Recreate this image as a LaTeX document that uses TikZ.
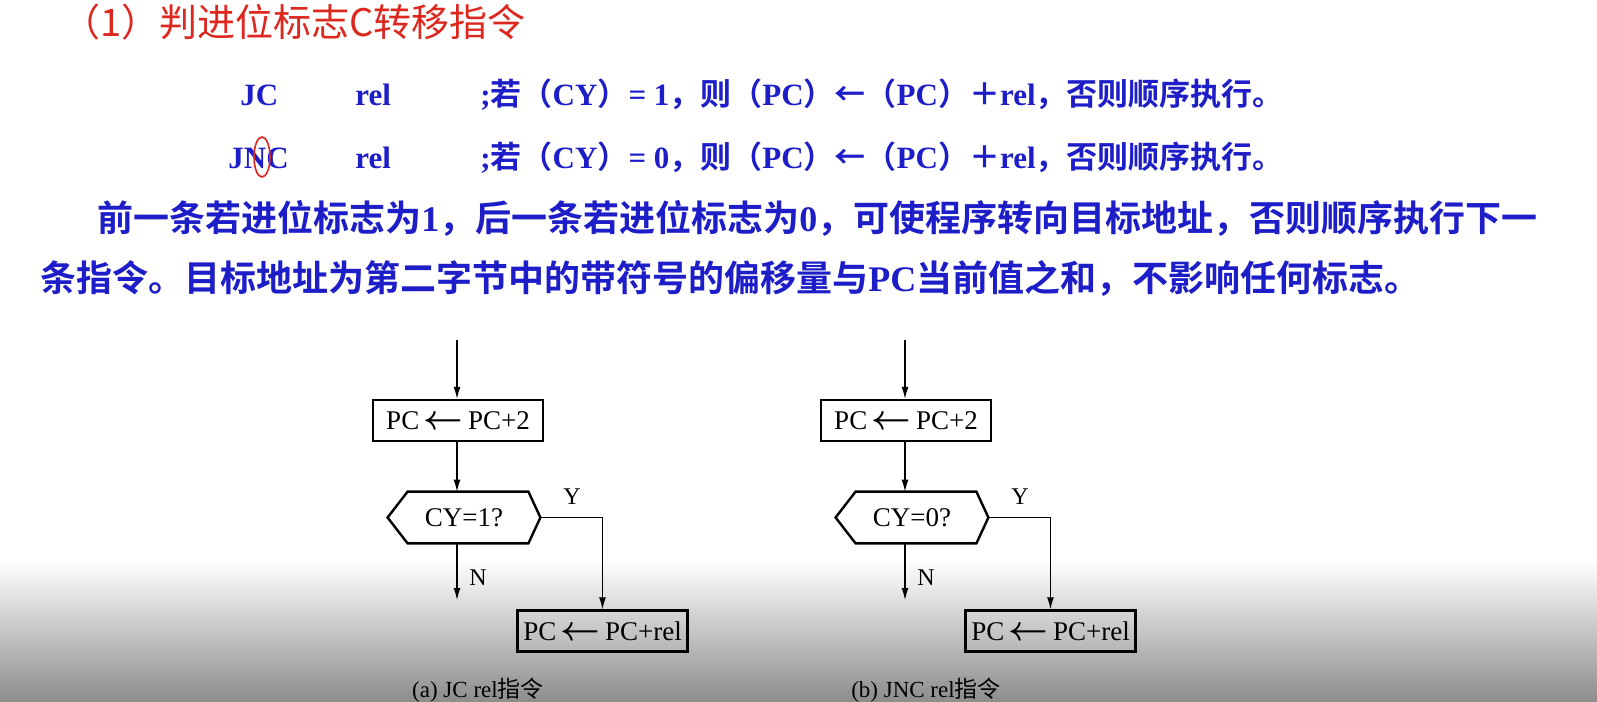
\documentclass[tikz,border=0pt]{standalone}
\usepackage{fontspec}
\setmainfont{Liberation Serif}
\newfontfamily\cjk{Noto Sans CJK SC}
\newfontfamily\cjkb{Noto Sans CJK SC}[BoldFont={Noto Sans CJK SC Bold}]
\usetikzlibrary{calc,arrows.meta}
\definecolor{tblue}{RGB}{30,30,200}
\definecolor{tred}{RGB}{220,40,30}
\tikzset{
  box/.style={draw,line width=1.2pt,minimum width=85pt,minimum height=20.5pt,inner sep=0pt,font=\fontsize{13.5}{13.5}\selectfont},
  hexn/.style={minimum width=76pt,minimum height=25.5pt,inner sep=0pt,font=\fontsize{13.5}{13.5}\selectfont},
  arr/.style={-{Latex[length=6pt,width=3.5pt]},line width=0.6pt},
  lbl/.style={font=\fontsize{12}{12}\selectfont},
  blu/.style={text=tblue,font=\bfseries\fontsize{15.5}{15.5}\selectfont,anchor=west,inner sep=0pt},
}
\newcommand{\cn}[1]{{\cjkb\bfseries #1}}
\newcommand{\la}{\,{\fontsize{16}{16}\selectfont$\boldsymbol{\leftarrow}$}\,}
\usepackage{amsmath,bm}
\begin{document}
\begin{tikzpicture}[x=0.5pt,y=-0.5pt]
\useasboundingbox (0,0) rectangle (1597,702);
\fill[white] (0,0) rectangle (1597,560);
\shade[top color=white,bottom color=black!45] (0,560) rectangle (1597,702);
% header
\node[anchor=west,inner sep=0pt,text=tred,font=\cjk\fontsize{19}{19}\selectfont] (title) at (62,22) {（1）判进位标志C转移指令};
\node[blu] (jc) at (240,95) {JC};
\node[blu] (rel1) at (355,95) {rel};
\node[blu] (c1) at (480,95) {;\cn{若（}CY\cn{）}= 1\cn{，则（}PC\cn{）←（}PC\cn{）＋}rel\cn{，否则顺序执行。}};
\node[blu] (jnc) at (228,158) {JNC};
\node[blu] (rel2) at (355,158) {rel};
\node[blu] (c2) at (480,158) {;\cn{若（}CY\cn{）}= 0\cn{，则（}PC\cn{）←（}PC\cn{）＋}rel\cn{，否则顺序执行。}};
\draw[tred,line width=0.8pt] (262,157) ellipse (8 and 20);
\node[blu,font=\cjkb\bfseries\fontsize{18}{18}\selectfont] (p1) at (97,218) {前一条若进位标志为\textbf{\rmfamily 1}，后一条若进位标志为\textbf{\rmfamily 0}，可使程序转向目标地址，否则顺序执行下一};
\node[blu,font=\cjkb\bfseries\fontsize{18}{18}\selectfont] (p2) at (40,278) {条指令。目标地址为第二字节中的带符号的偏移量与\textbf{\rmfamily PC}当前值之和，不影响任何标志。};
% flowcharts
\foreach \dx/\cy/\cap/\nm in {0/1/{(a) JC rel{\cjk 指令}}/a,448/0/{(b) JNC rel{\cjk 指令}}/b}{
  \begin{scope}[xshift=\dx*0.5pt]
  \coordinate (\nm top) at (457,340);
  \node[box] (\nm b1) at (458,420.5) {PC\la PC+2};
  \node[hexn] (\nm d) at (464,517.5) {CY=\cy?};
  \draw[line width=1.2pt] (\nm d.west) -- ($(\nm d.north west)+(20,0)$) -- ($(\nm d.north east)+(-12,0)$) -- (\nm d.east) -- ($(\nm d.south east)+(-12,0)$) -- ($(\nm d.south west)+(20,0)$) -- cycle;
  \node[box] (\nm b2) at (602.5,631) {PC\la PC+rel};
  \coordinate (\nm n) at (457,600);
  \draw[arr] (\nm top) -- (\nm b1.north -| \nm top);
  \draw[arr] (\nm b1.south -| \nm top) -- (\nm d.north -| \nm top);
  \draw[arr] (\nm d.south -| \nm top) -- (\nm n);
  \draw[arr] (\nm d.east) -| (\nm b2.north);
  \node[lbl] (\nm y) at (572,497) {Y};
  \node[lbl] (\nm nl) at (478,578) {N};
  \node[font=\fontsize{11.5}{11.5}\selectfont] (\nm cap) at (478,690) {\cap};
  \end{scope}
}
\end{tikzpicture}
\end{document}
